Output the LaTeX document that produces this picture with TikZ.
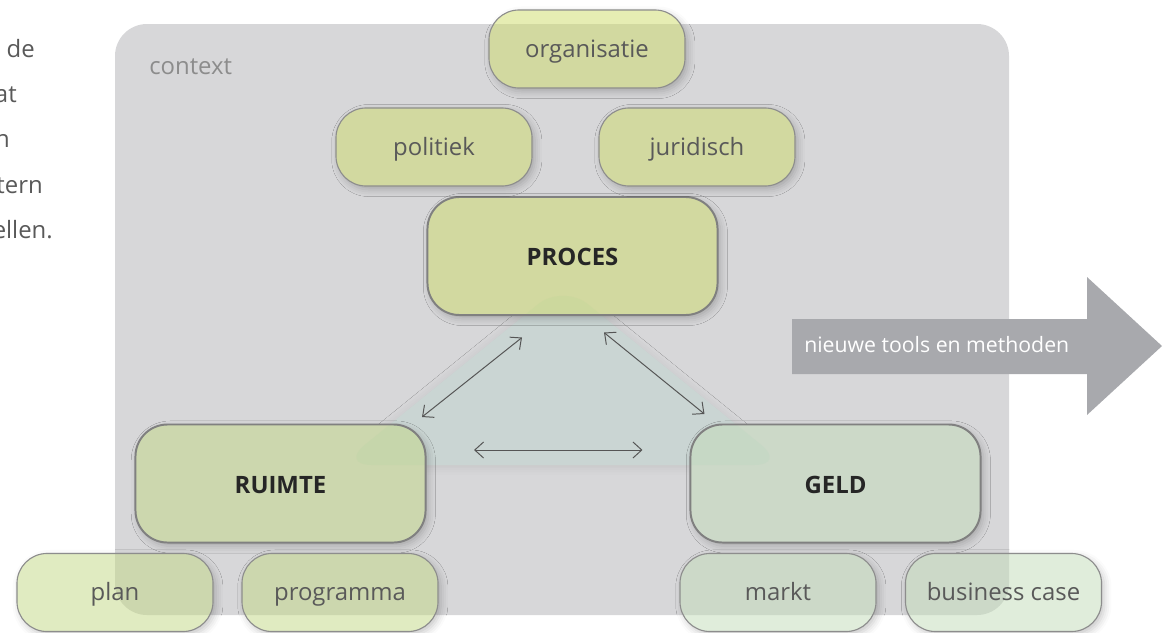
\documentclass[tikz,border=0pt]{standalone}
\usepackage{fontspec}
\setmainfont{Open Sans}
\usepackage{xcolor}
\usepackage{tikz}
\usetikzlibrary{arrows.meta,shadows.blur}
\definecolor{cCtx}{HTML}{D7D7D9}
\definecolor{cTri}{HTML}{CAD5D3}
\definecolor{cTool}{HTML}{A8A9AD}
\definecolor{cEdge}{HTML}{808080}
\definecolor{cLink}{HTML}{555555}
% box fills: on white, on the context panel, on the triangle
\definecolor{cProcW}{HTML}{E6EDB3}
\definecolor{cProcG}{HTML}{D2D9A0}
\definecolor{cProcT}{HTML}{CCD89D}
\definecolor{cRuimW}{HTML}{E0EBC1}
\definecolor{cRuimG}{HTML}{CCD7AE}
\definecolor{cRuimT}{HTML}{C6D6AB}
\definecolor{cGeldW}{HTML}{E0EDDB}
\definecolor{cGeldG}{HTML}{CCD9C8}
\definecolor{cGeldT}{HTML}{C6D8C5}
\newcommand{\ctxfill}[1]{\fill[#1, rounded corners=0.8cm] (ctxA) rectangle (ctxB);}
\newcommand{\trifill}[1]{\fill[#1] (apex) -- (baseR) -- (baseL) -- cycle;}

\begin{document}
\begin{tikzpicture}[x=0.025cm, y=-0.025cm,
  font=\fontsize{17}{20}\selectfont,
  lifted/.style={blur shadow={shadow xshift=2pt, shadow yshift=-2.5pt, shadow blur radius=5pt, shadow opacity=22}},
  pillar/.style={lifted, draw=cEdge, line width=1.4pt, rounded corners=0.8cm, minimum width=7.25cm, minimum height=2.95cm,
    text height=14pt, text depth=0pt, text=black!85, font=\fontsize{17}{20}\selectfont\bfseries},
  topic/.style={lifted, draw=cEdge!90, line width=0.8pt, rounded corners=0.75cm, minimum width=4.9cm, minimum height=1.95cm,
    text height=14pt, text depth=2pt, text=black!65},
  proc/.style={fill=cProcW, path picture={\ctxfill{cProcG}\trifill{cProcT}}},
  ruim/.style={fill=cRuimW, path picture={\ctxfill{cRuimG}\trifill{cRuimT}}},
  geld/.style={fill=cGeldW, path picture={\ctxfill{cGeldG}\trifill{cGeldT}}},
  link/.style={draw=cLink, line width=0.7pt, {Straight Barb[length=2.2mm,width=4mm]}-{Straight Barb[length=2.2mm,width=4mm]}},
  margin/.style={anchor=base east, inner sep=0pt, text=black!65}]
\useasboundingbox (0,0) rectangle (1169,632);
\clip (0,0) rectangle (1169,632);
\coordinate (ctxA) at (115,24);
\coordinate (ctxB) at (1009,615);
\coordinate (apex) at (563,284);
\coordinate (baseR) at (786,465);
\coordinate (baseL) at (340,465);
% ---- the tail of the paragraph beside the figure -------------------------------------------------
\node[margin] (p1) at (35,57) {de};
\node[margin] (p2) at (17,102) {at};
\node[margin] (p3) at (10,147) {n};
\node[margin] (p4) at (43,193) {tern};
\node[margin] (p5) at (53,238) {ellen.};
% ---- context panel and the outgoing arrow ---------------------------------------------------------
\ctxfill{cCtx}
\node[anchor=base west, inner sep=0pt, text=black!45] (ctx) at (149,74) {context};
\fill[cTool] (792,319) -- (1087,319) -- (1087,277) -- (1162,346) -- (1087,415) -- (1087,374) -- (792,374) -- cycle;
\node[anchor=base west, inner sep=0pt, text=white, font=\fontsize{15.1}{19}\selectfont] (tools) at (804,352) {nieuwe tools en methoden};
% ---- triangle behind the three pillars ------------------------------------------------------------
\trifill{cTri, blur shadow={shadow xshift=0pt, shadow yshift=-1pt, shadow blur radius=6pt, shadow opacity=10}}
% ---- the three pillars ----------------------------------------------------------------------------
\node[pillar, proc] (proces) at (572.5,256) {PROCES};
\node[pillar, ruim] (ruimte) at (280.5,483.5) {RUIMTE};
\node[pillar, geld] (geld) at (835.5,483.5) {GELD};
% ---- topics round the pillars ---------------------------------------------------------------------
\node[topic, proc] (organisatie) at (587,49) {organisatie};
\node[topic, proc] (politiek) at (434,147) {politiek};
\node[topic, proc] (juridisch) at (697,147) {juridisch};
\node[topic, ruim] (plan) at (115,592.5) {plan};
\node[topic, ruim] (programma) at (340,592.5) {programma};
\node[topic, geld] (markt) at (778,592.5) {markt};
\node[topic, geld] (business) at (1003.5,592.5) {business case};
% ---- links between the pillars --------------------------------------------------------------------
\draw[link] ([shift={(-4.5,-6.5)}]ruimte.north east) -- ([shift={(-50.5,21.5)}]proces.south);
\draw[link] ([shift={(31.5,16.5)}]proces.south) -- ([shift={(15,-9.5)}]geld.north west);
\draw[link] ([shift={(47.5,-33.5)}]ruimte.east) -- ([shift={(-47,-33.5)}]geld.west);
\end{tikzpicture}
\end{document}
